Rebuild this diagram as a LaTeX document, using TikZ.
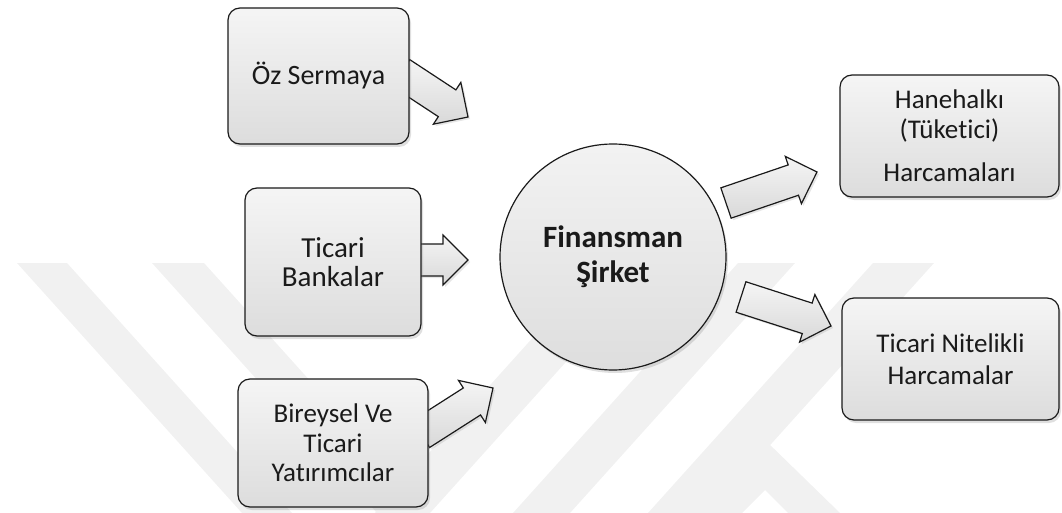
\documentclass[tikz,border=0pt]{standalone}
\usepackage{fontspec}
\setmainfont{Carlito}[Ligatures=NoCommon]
\usetikzlibrary{calc,shadows}

\definecolor{inkc}{HTML}{1A1A1A}
\definecolor{markc}{HTML}{F1F1F1}

\tikzset{
  box/.style={draw=inkc, line width=1.2pt, rounded corners=12pt,
    top color=gray!8, bottom color=gray!27, text=inkc, align=center,
    inner sep=0pt, drop shadow={shadow xshift=2pt, shadow yshift=-3pt, opacity=0.25}},
  hub/.style={circle, draw=inkc, line width=1.2pt,
    top color=gray!10, bottom color=gray!26, text=inkc, align=center,
    inner sep=0pt, minimum size=226pt,
    drop shadow={shadow xshift=2pt, shadow yshift=-3pt, opacity=0.25}},
  blockarrow/.style={draw=inkc, line width=1.2pt, line join=miter,
    top color=gray!8, bottom color=gray!30,
    drop shadow={shadow xshift=2pt, shadow yshift=-2pt, opacity=0.2}},
  emblem/.style={fill=markc, draw=none}
}

% block arrow from base point #1 to tip point #2
\newcommand{\blockarrow}[2]{%
  \coordinate (#1-#2-h) at ($(#2)!25pt!(#1)$);
  \draw[blockarrow]
    ($(#1)!16pt!90:(#2)$) -- ($(#1-#2-h)!16pt!90:(#2)$)
    -- ($(#1-#2-h)!25pt!90:(#2)$) -- (#2)
    -- ($(#1-#2-h)!25pt!-90:(#2)$) -- ($(#1-#2-h)!16pt!-90:(#2)$)
    -- ($(#1)!16pt!-90:(#2)$) -- cycle;}

\begin{document}
\begin{tikzpicture}[x=1pt, y=-1pt]
\useasboundingbox (0,0) rectangle (1062,513);

% faint background emblem
\begin{scope}
  \clip (0,263) rectangle (1062,513);
  \fill[emblem] (17,263) -- (67,263) -- (292,513) -- (242,513) -- cycle;
  \fill[emblem] (152,263) -- (204,263) -- (429,513) -- (377,513) -- cycle;
  \fill[emblem] (600,263) -- (655,263) -- (430,513) -- (375,513) -- cycle;
  \fill[emblem] (738,263) -- (795,263) -- (570,513) -- (513,513) -- cycle;
  \fill[emblem] (873,263) -- (934,263) -- (709,513) -- (648,513) -- cycle;
  \fill[emblem, even odd rule] (765,440) -- (840,513) -- (690,513) -- cycle
                              (765,490) -- (788,513) -- (742,513) -- cycle;
\end{scope}

% arrow end points
\coordinate (a1s) at (401,73);  \coordinate (a1e) at (468,117);
\coordinate (a2s) at (412,260); \coordinate (a2e) at (468,260);
\coordinate (a3s) at (421,434); \coordinate (a3e) at (493,388);
\coordinate (a4s) at (726,203); \coordinate (a4e) at (817,172);
\coordinate (a5s) at (741,297); \coordinate (a5e) at (831,326);

\blockarrow{a1s}{a1e}
\blockarrow{a2s}{a2e}
\blockarrow{a3s}{a3e}
\blockarrow{a4s}{a4e}
\blockarrow{a5s}{a5e}

% sources
\node[box, minimum width=181pt, minimum height=136pt,
      font=\fontsize{28}{34}\selectfont] (oz) at (318.5,76) {Öz Sermaya};
\node[box, minimum width=176pt, minimum height=148pt,
      font=\fontsize{29}{29.5}\selectfont] (tb) at (333,262) {Ticari\\Bankalar};
\node[box, minimum width=190pt, minimum height=128pt,
      font=\fontsize{27}{29.5}\selectfont] (by) at (333,443) {Bireysel Ve\\Ticari\\Yatırımcılar};

% centre
\node[hub, font=\bfseries\fontsize{31}{35}\selectfont] (fs) at (613,257) {Finansman\\Şirket};

% uses
\node[box, minimum width=219pt, minimum height=122pt,
      font=\fontsize{27}{30}\selectfont] (hh) at (949.5,136) {Hanehalkı\\(Tüketici)\\[13pt]Harcamaları};
\node[box, minimum width=217pt, minimum height=122pt,
      font=\fontsize{27}{32}\selectfont] (tn) at (950.5,359) {Ticari Nitelikli\\Harcamalar};
\end{tikzpicture}
\end{document}
